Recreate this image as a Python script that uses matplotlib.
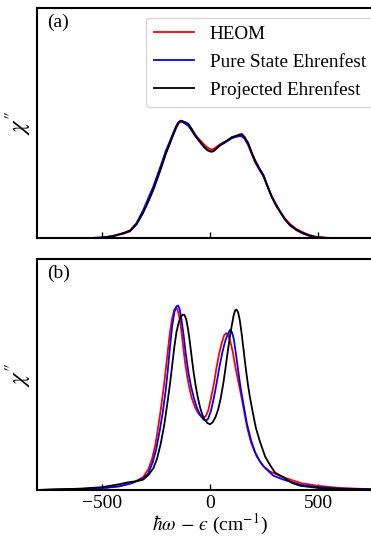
import matplotlib
matplotlib.use("Agg")
import matplotlib.pyplot as plt

plt.rcParams['font.family'] = ['Liberation Serif', 'DejaVu Serif']
plt.rcParams['mathtext.fontset'] = 'stix'

# Panel (a): x (cm^-1) and chi'' (arb. units)
xa = [-800, -600, -500, -450, -400, -370, -340, -310, -285, -262, -243, -224, -205, -185,
      -170, -155, -145, -135, -125, -112, -100, -85, -70, -55, -40, -25, -10, 5, 15, 30,
      45, 60, 80, 100, 120, 135, 147, 160, 177, 192, 208, 228, 247, 265, 285, 305, 324,
      345, 370, 400, 432, 460, 494, 550, 600, 800]
heom_a = [0, 0, 0.3, 0.9, 2.0, 3.0, 6.2, 11.2, 16.4, 21.5,
          26.5, 31.5, 36.8, 41.5, 45, 48.2, 49.9, 50.6, 50.4, 49.9,
          49.3, 47.5, 45.3, 43.5, 42, 40.5, 39.3, 38.6, 38.7, 39.7,
          40.8, 41.5, 42.5, 43.6, 44.1, 44.3, 44.2, 43.2, 40.3, 36.8,
          33.0, 29.8, 27.0, 22.8, 18.5, 14.9, 11.8, 8.8, 6.2, 4.0,
          2.5, 1.4, 0.6, 0.2, 0.1, 0]
pure_a = [0, 0, 0.3, 1.0, 2.3, 3.4, 6.6, 12.0, 17.5, 22.5,
          27.5, 32.5, 37.8, 42.3, 45.8, 49.0, 50.5, 51.0, 50.4, 49.6,
          48.8, 46.8, 44.6, 42.8, 41.0, 39.3, 38.1, 37.6, 37.8, 39.0,
          40.2, 41.0, 42.2, 43.4, 44.1, 44.5, 44.5, 43.5, 40.8, 37.2,
          33.6, 30.0, 27.0, 22.5, 18.0, 14.3, 11.4, 8.3, 5.6, 3.5,
          2.0, 1.0, 0.4, 0.1, 0, 0]
proj_a = [0, 0, 0.3, 0.9, 2.2, 3.2, 6, 10.9, 16, 21,
          26, 31.1, 36.5, 41.3, 45, 48.5, 50.3, 51.1, 50.8, 50.3,
          49.7, 47.5, 45, 43, 41.3, 39.5, 38.3, 37.7, 37.8, 39,
          40.3, 41.3, 42.5, 43.9, 44.5, 45, 45.3, 44, 41.3, 37.5,
          34.0, 30.5, 27.5, 23, 18.1, 14.5, 11.6, 8.5, 5.8, 3.7,
          2.2, 1.2, 0.4, 0.1, 0, 0]

# Panel (b): (x, chi'') pairs
heom_b_pts = [(-800, 0), (-700, 0.2), (-600, 0.4), (-500, 0.8), (-420, 1.6), (-360, 3.0),
              (-310, 5.5), (-285, 9), (-268, 13.5), (-253, 19.5), (-240, 27), (-226, 36),
              (-212, 46), (-199, 57), (-187, 67), (-176, 74), (-166, 78), (-158, 79),
              (-151, 78.3), (-143, 75.5), (-135, 71), (-125, 63), (-115, 55), (-105, 49),
              (-95, 44), (-85, 40), (-70, 36), (-55, 33.3), (-40, 31.8), (-30, 31.3),
              (-20, 32), (-8, 34.5), (5, 40), (18, 46), (30, 53), (42, 59), (55, 64),
              (65, 67), (75, 68), (85, 67), (95, 64), (105, 60), (118, 53), (130, 47.5),
              (144, 41), (158, 34), (172, 27), (190, 20.5), (216, 14.5), (245, 10.5),
              (278, 8), (340, 5.5), (420, 3), (500, 1.8), (600, 0.9), (700, 0.5), (800, 0.3)]
pure_b_pts = [(-800, 0), (-700, 0.2), (-600, 0.4), (-500, 0.8), (-420, 1.6), (-360, 3.0),
              (-310, 5.0), (-286, 7), (-265, 12), (-248, 18), (-232, 26), (-218, 34),
              (-205, 43), (-195, 52), (-185, 62), (-175, 71), (-165, 77), (-156, 79.5),
              (-148, 80), (-141, 78.5), (-132, 74), (-122, 67), (-112, 59), (-100, 51),
              (-88, 45), (-75, 40), (-60, 35.5), (-45, 32.5), (-30, 30.5), (-18, 30),
              (-8, 31), (5, 34.5), (18, 40), (30, 46), (45, 54), (58, 60), (70, 64.5),
              (82, 67.5), (93, 69.4), (101, 68.5), (110, 65.5), (120, 59), (130, 52),
              (142, 44), (155, 37), (170, 29), (190, 21.5), (208, 16.5), (230, 12.5),
              (250, 10), (293, 6.2), (340, 4.5), (420, 2.2), (500, 1.3), (600, 0.6),
              (700, 0.3), (800, 0.2)]
proj_b_pts = [(-800, 0), (-700, 0.3), (-600, 0.6), (-500, 1.2), (-420, 2.5), (-380, 3.3),
              (-340, 3.8), (-309, 4.5), (-285, 6.5), (-262, 9.4), (-245, 13.5), (-228, 20),
              (-212, 28), (-198, 37), (-185, 46), (-175, 54), (-165, 62), (-155, 68.5),
              (-145, 72.5), (-135, 75), (-126, 76), (-118, 75.9), (-110, 74), (-102, 70),
              (-93, 64), (-84, 57), (-75, 50.5), (-65, 44.5), (-55, 39.5), (-45, 35.5),
              (-35, 32.5), (-25, 30.5), (-12, 29), (0, 28.5), (12, 29.3), (25, 31.5),
              (38, 35), (50, 40), (62, 46.5), (72, 53), (82, 60), (92, 66.5), (102, 72),
              (110, 76), (117, 78), (123, 78.2), (130, 77), (138, 73.5), (146, 68),
              (155, 61), (165, 53), (175, 46), (185, 40), (198, 33.5), (212, 27),
              (231, 20.9), (255, 14.5), (278, 10.8), (301, 7.5), (340, 5.5), (380, 3.0),
              (420, 1.8), (500, 0.9), (600, 0.5), (700, 0.3), (800, 0.2)]

xticks = [-500, 0, 500]
xticklabels = ['\u2212500', '0', '500']
labels = ['HEOM', 'Pure State Ehrenfest', 'Projected Ehrenfest']
colors = ['red', 'blue', 'black']

W, H = 371, 536
fig = plt.figure(figsize=(W / 100, H / 100), dpi=100)
axa = fig.add_axes([37 / W, 1 - 238.3 / H, (383 - 37) / W, (238.3 - 8) / H])
axb = fig.add_axes([37 / W, 1 - 490 / H, (383 - 37) / W, (490 - 259.3) / H])

lw = 1.3
for ys, c, lab in zip([heom_a, pure_a, proj_a], colors, labels):
    axa.plot(xa, ys, color=c, lw=lw, label=lab)
for pts, c in zip([heom_b_pts, pure_b_pts, proj_b_pts], colors):
    xs, ys = zip(*pts)
    axb.plot(xs, ys, color=c, lw=lw)

for ax, tag in [(axa, '(a)'), (axb, '(b)')]:
    ax.set_xlim(-800, 800)
    ax.set_ylim(0, 100)
    ax.set_yticks([])
    ax.set_xticks(xticks)
    ax.tick_params(axis='x', direction='in', length=4, width=1, labelsize=14)
    for s in ax.spines.values():
        s.set_linewidth(1.5)
    ax.set_ylabel(r"$\chi^{\prime\!\prime}$", fontsize=18, labelpad=3)
    ax.text(0.03, 0.975, tag, transform=ax.transAxes, ha='left', va='top', fontsize=14)

axa.tick_params(axis='x', labelbottom=False)
axb.set_xticklabels(xticklabels)
axb.set_xlabel('$\\hbar\\omega\\,-\\,\u03f5$ (cm$^{-1}$)', fontsize=14, labelpad=0)

axa.legend(loc='upper right', fontsize=13.8, frameon=True, handlelength=2.1,
           borderpad=0.4, labelspacing=0.55, handletextpad=0.8, borderaxespad=0.5)

fig.savefig('out.png', dpi=100)
